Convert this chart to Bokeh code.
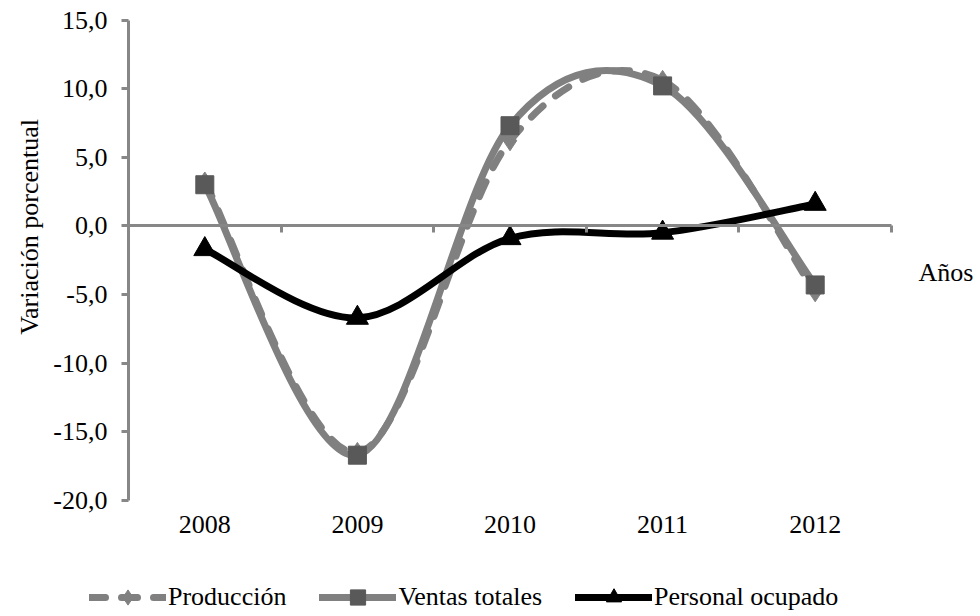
import numpy as np
from bokeh.plotting import figure
from bokeh.models import (FixedTicker, Label, Legend, LegendItem, ColumnDataSource,
                          LinearAxis)
from bokeh.embed import file_html
from bokeh.resources import INLINE

# ---------------- data ----------------
years = ["2008", "2009", "2010", "2011", "2012"]
produccion = [3.2, -16.5, 6.2, 10.6, -4.8]
ventas_totales = [3.0, -16.7, 7.3, 10.2, -4.3]
personal_ocupado = [-1.7, -6.7, -0.9, -0.5, 1.6]
y_ticks = [-20, -15, -10, -5, 0, 5, 10, 15]
y_tick_labels = ["-20,0", "-15,0", "-10,0", "-5,0", "0,0", "5,0", "10,0", "15,0"]
series_names = ["Producción", "Ventas totales", "Personal ocupado"]
y_title = "Variación porcentual"
x_title = "Años"

FONT = "Liberation Serif"
GRAY = "#808080"
DARK = "#595959"
AXIS_GRAY = "#878787"
FS = "26px"
LW = 7

W, H = 980, 616
# plot-area placement in pixels (left, right, top, bottom)
PL, PR, PT, PB = 128, 891, 19.5, 500

x_pos = list(range(len(years)))
cat_edges = [i - 0.5 for i in range(len(years) + 1)]
x0d, x1d = cat_edges[0], cat_edges[-1]
y0d, y1d = y_ticks[0], y_ticks[-1]
sx = (PR - PL) / (x1d - x0d)
sy = (PB - PT) / (y1d - y0d)
xr = (x0d - PL / sx, x1d + (W - PR) / sx)
yr = (y0d - (H - PB) / sy, y1d + PT / sy)


def smooth_source(xs, ys):
    """Excel-like smoothed line: cubic Bezier segments (Catmull-Rom control points)."""
    xs = np.asarray(xs, float)
    ys = np.asarray(ys, float)
    xp = np.concatenate([[xs[0]], xs, [xs[-1]]])
    yp = np.concatenate([[ys[0]], ys, [ys[-1]]])
    d = dict(x0=[], y0=[], x1=[], y1=[], cx0=[], cy0=[], cx1=[], cy1=[])
    for j in range(1, len(xs)):
        d["x0"].append(xp[j]); d["y0"].append(yp[j])
        d["x1"].append(xp[j + 1]); d["y1"].append(yp[j + 1])
        d["cx0"].append(xp[j] + (xp[j + 1] - xp[j - 1]) / 6.0)
        d["cy0"].append(yp[j] + (yp[j + 1] - yp[j - 1]) / 6.0)
        d["cx1"].append(xp[j + 1] - (xp[j + 2] - xp[j]) / 6.0)
        d["cy1"].append(yp[j + 1] - (yp[j + 2] - yp[j]) / 6.0)
    return ColumnDataSource(d)


p = figure(width=W, height=H, x_range=xr, y_range=yr,
           output_backend="svg", toolbar_location=None,
           min_border_left=0, min_border_right=0,
           min_border_top=0, min_border_bottom=0)
p.outline_line_color = None
p.grid.visible = False
p.background_fill_color = "white"
p.border_fill_color = "white"

# ---- y axis (drawn at the left edge of the category area) ----
yax = p.yaxis[0]
yax.fixed_location = x0d
yax.bounds = (y0d, y1d)
yax.ticker = FixedTicker(ticks=y_ticks)
yax.major_label_overrides = {t: l for t, l in zip(y_ticks, y_tick_labels)}
yax.axis_line_color = AXIS_GRAY
yax.axis_line_width = 3
yax.major_tick_line_color = AXIS_GRAY
yax.major_tick_line_width = 3
yax.major_tick_out = 7
yax.major_tick_in = 0
yax.minor_tick_line_color = None
yax.major_label_text_font = FONT
yax.major_label_text_font_size = FS
yax.major_label_text_color = "black"
yax.major_label_standoff = 14

# ---- x axis labels (at the bottom of the value range) ----
xax = p.xaxis[0]
xax.fixed_location = y0d
xax.ticker = FixedTicker(ticks=x_pos)
xax.major_label_overrides = {t: l for t, l in zip(x_pos, years)}
xax.axis_line_color = None
xax.major_tick_line_color = None
xax.minor_tick_line_color = None
xax.major_label_text_font = FONT
xax.major_label_text_font_size = FS
xax.major_label_text_color = "black"
xax.major_label_standoff = 9

# ---- x axis line crossing at zero ----
zax = LinearAxis(fixed_location=0, ticker=FixedTicker(ticks=cat_edges),
                 bounds=(x0d, x1d))
zax.major_label_overrides = {t: "" for t in cat_edges}
zax.axis_line_color = AXIS_GRAY
zax.axis_line_width = 3
zax.major_tick_line_color = AXIS_GRAY
zax.major_tick_line_width = 3
zax.major_tick_out = 7
zax.major_tick_in = 0
zax.minor_tick_line_color = None
p.add_layout(zax, "below")

# ---- series ----
lp = p.bezier(source=smooth_source(x_pos, produccion), line_color=GRAY, line_width=LW,
              line_dash="16 16", line_cap="round")
mp = p.scatter(x_pos, produccion, marker="diamond", size=20, fill_color=GRAY,
               line_color=GRAY)

lv = p.bezier(source=smooth_source(x_pos, ventas_totales), line_color=GRAY, line_width=LW,
              line_cap="round")
mv = p.scatter(x_pos, ventas_totales, marker="square", size=18, fill_color=DARK,
               line_color=DARK)

lo = p.bezier(source=smooth_source(x_pos, personal_ocupado), line_color="black",
              line_width=LW, line_cap="round")
mo = p.scatter(x_pos, personal_ocupado, marker="triangle", size=22, fill_color="black",
               line_color="black")

# ---- legend ----
legend = Legend(items=[LegendItem(label=series_names[0], renderers=[lp, mp]),
                       LegendItem(label=series_names[1], renderers=[lv, mv]),
                       LegendItem(label=series_names[2], renderers=[lo, mo])],
                orientation="horizontal", location=(89, 0),
                glyph_width=77, glyph_height=38, label_standoff=2, spacing=33,
                padding=0, margin=0, border_line_color=None,
                background_fill_alpha=0,
                label_text_font=FONT, label_text_font_size=FS,
                label_text_color="black")
p.add_layout(legend)

# ---- titles ----
p.add_layout(Label(x=-1.15, y=-0.07, text=y_title, angle=np.pi / 2,
                   text_font=FONT, text_font_size=FS, text_color="black",
                   text_align="center", text_baseline="alphabetic"))
p.add_layout(Label(x=4.677, y=-3.4, text=x_title,
                   text_font=FONT, text_font_size=FS, text_color="black",
                   text_align="left", text_baseline="alphabetic"))

open("out.html", "w").write(file_html(p, INLINE))
